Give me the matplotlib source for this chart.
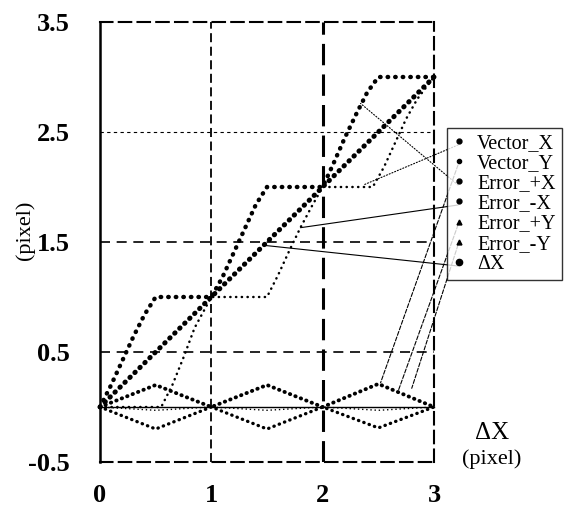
import matplotlib
matplotlib.use("Agg")
import matplotlib.pyplot as plt
from matplotlib.lines import Line2D

plt.rcParams['font.family'] = ['Liberation Serif', 'DejaVu Serif']

# ---- data -------------------------------------------------------------
dx_x = [0.0, 0.5, 1.0, 1.5, 2.0, 2.5, 3.0]
dx_y = [0.0, 0.5, 1.0, 1.5, 2.0, 2.5, 3.0]

vx_x = [0.0, 0.1, 0.2, 0.3, 0.4, 0.5, 1.0, 1.1, 1.2, 1.3, 1.4, 1.5,
        2.0, 2.1, 2.2, 2.3, 2.4, 2.5, 3.0]
vx_y = [0.0, 0.2, 0.42, 0.64, 0.84, 1.0, 1.0, 1.18, 1.4, 1.62, 1.84, 2.0,
        2.0, 2.22, 2.45, 2.66, 2.86, 3.0, 3.0]

vy_x = [0.0, 0.55, 0.65, 0.75, 0.85, 1.0, 1.5, 1.6, 1.7, 1.8, 1.9, 2.0,
        2.45, 2.55, 2.65, 2.75, 2.85, 3.0]
vy_y = [0.0, 0.0, 0.2, 0.45, 0.72, 1.0, 1.0, 1.2, 1.42, 1.63, 1.82, 2.0,
        2.0, 2.18, 2.4, 2.62, 2.8, 3.0]

err_x = [0.0, 0.5, 1.0, 1.5, 2.0, 2.5, 3.0]
err_px = [0.0, 0.2, 0.0, 0.2, 0.0, 0.21, 0.0]
err_mx = [0.0, -0.2, 0.0, -0.2, 0.0, -0.19, 0.0]
err_py = [0.0, 0.0, 0.0, 0.0, 0.0, 0.0, 0.0]
err_my = [0.0, -0.03, 0.0, -0.03, 0.0, -0.03, 0.0]

series_names = ["Vector_X", "Vector_Y", "Error_+X", "Error_-X",
                "Error_+Y", "Error_-Y", "\u0394X"]

x_ticks = [0, 1, 2, 3]
y_ticks = [-0.5, 0.5, 1.5, 2.5, 3.5]

# ---- figure -----------------------------------------------------------
W, H = 564, 520
fig = plt.figure(figsize=(W / 100, H / 100), dpi=100)
ax = fig.add_axes([100 / W, 1 - 462 / H, 334 / W, 440 / H])
ax.set_xlim(0, 3)
ax.set_ylim(-0.5, 3.5)

dots = dict(color="black", dash_capstyle="round", solid_capstyle="round",
            clip_on=False)
ax.plot(dx_x, dx_y, lw=3.6, linestyle=(0, (0.1, 1.3)), **dots)
ax.plot(vx_x, vx_y, lw=3.2, linestyle=(0, (0.1, 1.6)), **dots)
ax.plot(vy_x, vy_y, lw=1.8, linestyle=(0, (0.1, 2.2)), **dots)
ax.plot(err_x, err_px, lw=2.8, linestyle=(0, (0.1, 1.4)), **dots)
ax.plot(err_x, err_mx, lw=2.4, linestyle=(0, (0.1, 1.6)), **dots)
ax.plot(err_x, err_py, lw=1.0, linestyle="-", color="black", clip_on=False)
ax.plot(err_x, err_my, lw=1.0, linestyle=(0, (1, 2)), color="black",
        clip_on=False)

# grid and frame
ax.axhline(2.5, color="black", lw=0.8, dashes=(3, 3))
for yv in (0.5, 1.5):
    ax.axhline(yv, color="black", lw=1.2, dashes=(6, 4))
ax.axvline(1, color="black", lw=1.3, dashes=(5, 2.5))
ax.axvline(2, color="black", lw=2.2, dashes=(7, 3))

for side in ("top", "bottom", "right"):
    ax.spines[side].set_linestyle((0, (6, 3)))
    ax.spines[side].set_linewidth(1.5)
ax.spines["left"].set_linewidth(1.8)

ax.set_xticks(x_ticks)
ax.set_xticklabels([str(v) for v in x_ticks])
ax.set_yticks(y_ticks)
ax.set_yticklabels([f"{v:.1f}" for v in y_ticks])
ax.tick_params(length=0, labelsize=19)
ax.tick_params(axis="x", pad=16)
ax.tick_params(axis="y", pad=22)
for lbl in ax.get_xticklabels() + ax.get_yticklabels():
    lbl.set_fontweight("bold")

fig.text(25 / W, 1 - 230 / H, "(pixel)", rotation=90, ha="center",
         va="center", fontsize=16)
fig.text(492 / W, 1 - 433 / H, "\u0394X", ha="center", va="center",
         fontsize=18)
fig.text(492 / W, 1 - 459 / H, "(pixel)", ha="center", va="center",
         fontsize=16)

# legend (markers only)
handles = [
    Line2D([], [], ls="none", marker="o", ms=3.5, color="black"),
    Line2D([], [], ls="none", marker="o", ms=3, color="black"),
    Line2D([], [], ls="none", marker="o", ms=3.5, color="black"),
    Line2D([], [], ls="none", marker="o", ms=3.5, color="black"),
    Line2D([], [], ls="none", marker="^", ms=3.5, color="black"),
    Line2D([], [], ls="none", marker="^", ms=3.5, color="black"),
    Line2D([], [], ls="none", marker="o", ms=4.5, color="black"),
]
leg = fig.legend(handles, series_names, loc="upper left",
                 bbox_to_anchor=(447 / W, 1 - 128 / H), frameon=True,
                 fancybox=False, fontsize=14.5, handlelength=0.6,
                 handletextpad=0.6, labelspacing=0.05, borderpad=0.3,
                 borderaxespad=0)
leg.get_frame().set_edgecolor("black")
leg.get_frame().set_linewidth(1.0)

# leader lines from legend entries to the curves
leaders = [
    ((458, 145), (2.37, 2.02), ":"),
    ((458, 165), (2.52, 0.22), "--"),
    ((458, 185), (2.34, 2.76), ":"),
    ((458, 205), (1.80, 1.63), "-"),
    ((458, 225), (2.68, 0.15), "--"),
    ((458, 245), (2.80, 0.17), "--"),
    ((458, 266), (1.47, 1.47), "-"),
]
for (px, py), target, style in leaders:
    ax.annotate("", xy=target, xycoords="data",
                xytext=(px, H - py), textcoords="figure pixels",
                arrowprops=dict(arrowstyle="-", lw=0.8, ls=style,
                                color="black", shrinkA=0, shrinkB=0),
                annotation_clip=False)

fig.savefig("out.png", dpi=100)
